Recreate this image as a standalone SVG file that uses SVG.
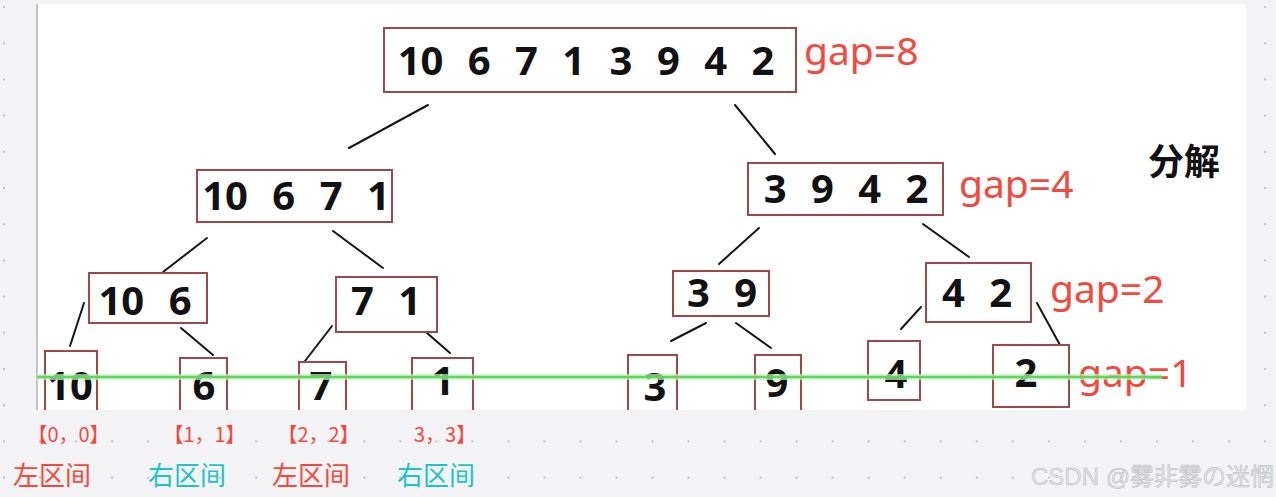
<svg xmlns="http://www.w3.org/2000/svg" width="1276" height="497" viewBox="0 0 1276 497">
<defs>
<pattern id="dots" x="3" y="6" width="36.03" height="36.2" patternUnits="userSpaceOnUse"><rect width="2" height="2" fill="#c4c4c8"/></pattern>
<clipPath id="clip"><rect x="37" y="4" width="1209" height="406"/></clipPath>
<style>
.box{fill:#fff;stroke:#a04848;stroke-width:2}
.num{font-family:"Noto Sans","Liberation Sans",sans-serif;font-weight:bold;font-size:40px;fill:#111;text-anchor:middle;word-spacing:14px}
.gap{font-family:"Noto Sans","Open Sans",sans-serif;font-size:39px;fill:#f5483c}
.edge{stroke:#151515;stroke-width:2;stroke-linecap:round;fill:none}
.rng{font-family:"Noto Sans CJK SC","Noto Sans",sans-serif;font-size:20px;fill:#f5483c}
.lab{font-family:"Noto Sans CJK SC",sans-serif;font-size:26px}
.red{fill:#f5483c}
.teal{fill:#1cc4c8}
</style>
</defs>
<rect width="1276" height="497" fill="#f3f3f5"/>
<rect width="1276" height="497" fill="url(#dots)"/>
<rect x="37" y="4" width="1209" height="406" fill="#fff"/>
<line x1="37" y1="4" x2="37" y2="410" stroke="#b4b4b8" stroke-width="1.5"/>
<g clip-path="url(#clip)">
<g id="connectors">
<line class="edge" x1="428" y1="105" x2="349" y2="148"/>
<line class="edge" x1="735" y1="105" x2="775" y2="154"/>
<line class="edge" x1="207" y1="238" x2="163" y2="272"/>
<line class="edge" x1="333" y1="231" x2="383" y2="268"/>
<line class="edge" x1="759" y1="228" x2="719" y2="264"/>
<line class="edge" x1="923" y1="224" x2="969" y2="257"/>
<line class="edge" x1="84" y1="303" x2="70" y2="346"/>
<line class="edge" x1="181" y1="328" x2="213" y2="355"/>
<line class="edge" x1="332" y1="326" x2="305" y2="361"/>
<line class="edge" x1="427" y1="333" x2="450" y2="353"/>
<line class="edge" x1="706" y1="323" x2="671" y2="341"/>
<line class="edge" x1="736" y1="323" x2="771" y2="348"/>
<line class="edge" x1="921" y1="307" x2="901" y2="329"/>
<line class="edge" x1="1037" y1="303" x2="1060" y2="345"/>
</g>
<g id="n-root"><rect class="box" x="384" y="28" width="412" height="64"/><text class="num" x="586" y="75">10 6 7 1 3 9 4 2</text></g>
<g id="n-l"><rect class="box" x="197" y="170" width="195" height="52"/><text class="num" x="296" y="210">10 6 7 1</text></g>
<g id="n-r"><rect class="box" x="748" y="163" width="195" height="52"/><text class="num" x="846" y="203">3 9 4 2</text></g>
<g id="n-ll"><rect class="box" x="89" y="273" width="118" height="50"/><text class="num" x="145" y="315">10 6</text></g>
<g id="n-lr"><rect class="box" x="336" y="277" width="101" height="55"/><text class="num" x="386" y="315">7 1</text></g>
<g id="n-rl"><rect class="box" x="673" y="271" width="96" height="45"/><text class="num" x="722" y="307">3 9</text></g>
<g id="n-rr"><rect class="box" x="926" y="263" width="105" height="59"/><text class="num" x="977" y="307">4 2</text></g>
<g id="n-10"><rect class="box" x="45" y="351" width="52" height="70"/><text class="num" x="70" y="400">10</text></g>
<g id="n-6"><rect class="box" x="180" y="358" width="47" height="63"/><text class="num" x="204" y="400">6</text></g>
<g id="n-7"><rect class="box" x="299" y="362" width="47" height="59"/><text class="num" x="321" y="400">7</text></g>
<g id="n-1"><rect class="box" x="412" y="358" width="61" height="63"/><text class="num" x="443" y="395">1</text></g>
<g id="n-3"><rect class="box" x="628" y="355" width="49" height="66"/><text class="num" x="655" y="401">3</text></g>
<g id="n-9"><rect class="box" x="755" y="355" width="46" height="66"/><text class="num" x="777" y="397">9</text></g>
<g id="n-4"><rect class="box" x="868" y="341" width="52" height="59"/><text class="num" x="896" y="388">4</text></g>
<g id="n-2"><rect class="box" x="993" y="345" width="76" height="62"/><text class="num" x="1026" y="387">2</text></g>
<text class="gap" x="804" y="65">gap=8</text>
<text class="gap" x="959" y="198">gap=4</text>
<text class="gap" x="1050" y="303">gap=2</text>
<text class="gap" x="1078" y="387">gap=1</text>
<text x="1148" y="175" font-family="Noto Sans CJK SC, sans-serif" font-weight="bold" font-size="36" fill="#111">分解</text>
<line x1="37" y1="377" x2="1162" y2="377" stroke="#c6f3c0" stroke-width="6" opacity="0.7"/>
<line x1="37" y1="377" x2="1162" y2="377" stroke="#5ed65e" stroke-width="2.5"/>
</g>
<text class="rng" x="68.5" y="442" text-anchor="middle">【0，0】</text>
<text class="rng" x="204.5" y="442" text-anchor="middle">【1，1】</text>
<text class="rng" x="318.5" y="442" text-anchor="middle">【2，2】</text>
<text class="rng" x="414" y="442">3，3】</text>
<text class="lab red" x="13" y="485">左区间</text>
<text class="lab teal" x="148" y="485">右区间</text>
<text class="lab red" x="272" y="485">左区间</text>
<text class="lab teal" x="397" y="485">右区间</text>
<text x="1274" y="485" text-anchor="end" font-family="Liberation Sans, Noto Sans CJK JP, sans-serif" font-size="24" fill="#e2e2e4" stroke="#bcbcc0" stroke-width="0.5">CSDN @雾非雾の迷惘</text>
</svg>
